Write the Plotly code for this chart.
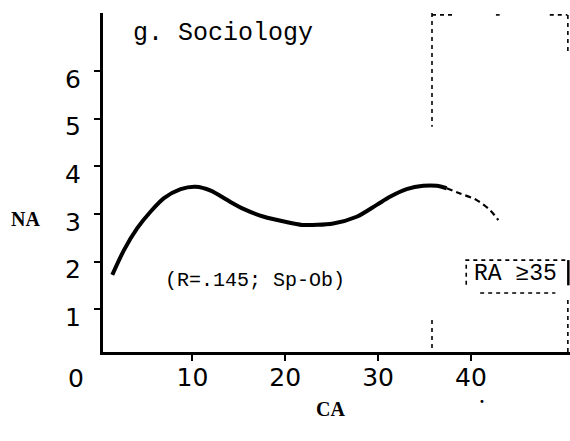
import plotly.graph_objects as go

# Data
ca_solid = [1.36, 2.62, 4.05, 5.50, 6.93, 8.73, 10.34, 11.96, 13.75, 15.55, 17.70, 19.86, 21.83,
            25.17, 27.69, 29.85, 31.28, 33.08, 34.87, 36.31, 37.39]
na_solid = [1.72, 2.24, 2.70, 3.05, 3.33, 3.52, 3.57, 3.49, 3.29, 3.10, 2.94, 2.84, 2.77,
            2.80, 2.94, 3.19, 3.36, 3.52, 3.59, 3.59, 3.54]
ca_dash = [37.39, 38.83, 40.63, 42.06, 42.95]
na_dash = [3.54, 3.43, 3.29, 3.08, 2.87]
x_ticks = [10, 20, 30, 40]
y_ticks = [1, 2, 3, 4, 5, 6]

X_RANGE = [0.36, 50.68]
Y_RANGE = [0.10, 7.22]

# plot-area geometry in window pixels
W, H = 570, 441
L, R, T, B = 103, 570, 13, 352
def px(xw):
    return (xw - L) / (R - L)
def py(yw):
    return (B - yw) / (B - T)

fig = go.Figure()
fig.add_trace(go.Scatter(x=ca_solid, y=na_solid, mode="lines",
                         line=dict(color="black", width=4, shape="spline", smoothing=0.8),
                         showlegend=False, hoverinfo="skip"))
fig.add_trace(go.Scatter(x=ca_dash, y=na_dash, mode="lines",
                         line=dict(color="black", width=2.2, shape="spline", dash="6px,4px"),
                         showlegend=False, hoverinfo="skip"))

tick_font = dict(family="DejaVu Sans", size=25, color="black")

fig.update_layout(
    width=W, height=H,
    margin=dict(l=L, r=W - R, t=T, b=H - B, autoexpand=False),
    paper_bgcolor="white", plot_bgcolor="white",
    xaxis=dict(range=X_RANGE, tickvals=x_ticks, ticktext=[str(v) for v in x_ticks],
               showgrid=False, zeroline=False, showline=True, linecolor="black", linewidth=2.5,
               ticks="outside", ticklen=6, tickwidth=2, tickcolor="black", automargin=False,
               tickfont=tick_font, ticklabelstandoff=-5),
    yaxis=dict(range=Y_RANGE, tickvals=y_ticks, ticktext=[str(v) for v in y_ticks],
               showgrid=False, zeroline=False, showline=True, linecolor="black", linewidth=3,
               ticks="outside", ticklen=6, tickwidth=2, tickcolor="black", automargin=False,
               tickfont=tick_font, ticklabelstandoff=8, ticklabelshift=8),
)

dash_line = dict(color="black", width=1.6, dash="4px,4px")
segs = [
    (35.81, 7.22, 35.81, 4.83),
    (35.81, 0.77, 35.81, 0.10),
    (35.81, 7.18, 38.3, 7.18),
    (42.7, 7.18, 43.1, 7.18),
    (48.5, 7.18, 50.4, 7.18),
    (50.45, 7.18, 50.45, 6.34),
    (39.4, 2.03, 50.5, 2.03),
    (41.0, 1.34, 49.1, 1.34),
    (39.5, 1.93, 39.5, 1.51),
    (50.45, 1.19, 50.45, 0.10),
]
for x0, y0, x1, y1 in segs:
    fig.add_shape(type="line", xref="x", yref="y", x0=x0, y0=y0, x1=x1, y1=y1, line=dash_line)
fig.add_shape(type="line", xref="x", yref="y", x0=50.5, y0=2.03, x1=50.5, y1=1.5,
              line=dict(color="black", width=2.5))

mono = "Liberation Mono"
fig.add_annotation(x=3.35, y=6.80, xref="x", yref="y", text="g. Sociology", showarrow=False,
                   xanchor="left", yanchor="middle", font=dict(family=mono, size=25, color="black"))
fig.add_annotation(x=16.73, y=1.61, xref="x", yref="y", text="(R=.145; Sp-Ob)", showarrow=False,
                   xanchor="center", yanchor="middle", font=dict(family=mono, size=20, color="black"))
fig.add_annotation(x=44.86, y=1.74, xref="x", yref="y", text="RA ≥35", showarrow=False,
                   xanchor="center", yanchor="middle", font=dict(family=mono, size=23, color="black"))
fig.add_annotation(x=px(76), y=py(378), xref="paper", yref="paper", text="0", showarrow=False,
                   xanchor="center", yanchor="middle", font=tick_font)
fig.add_annotation(x=px(25), y=py(219), xref="paper", yref="paper", text="<b>NA</b>",
                   showarrow=False, xanchor="center", yanchor="middle",
                   font=dict(family="Liberation Serif", size=20, color="black"))
fig.add_annotation(x=px(330), y=py(409), xref="paper", yref="paper", text="<b>CA</b>",
                   showarrow=False, xanchor="center", yanchor="middle",
                   font=dict(family="Liberation Serif", size=20, color="black"))
fig.add_annotation(x=px(482), y=py(401), xref="paper", yref="paper", text="•",
                   showarrow=False, xanchor="center", yanchor="middle",
                   font=dict(family="DejaVu Sans", size=10, color="black"))

fig.write_html("out.html", config={"displayModeBar": False},
               post_script="document.body.style.margin='0px';")
